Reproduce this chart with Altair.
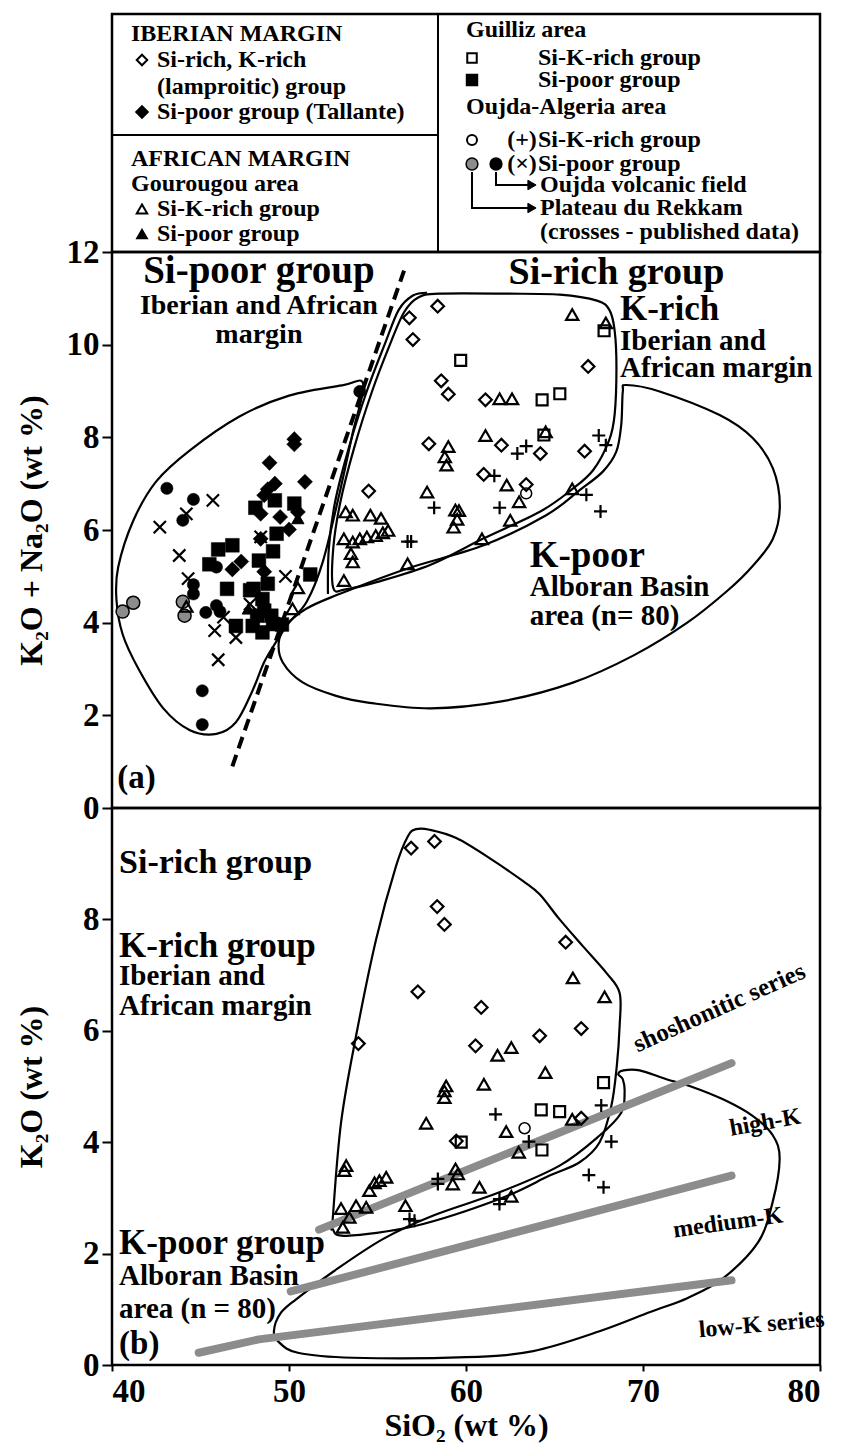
import altair as alt
import pandas as pd

FONT = "Liberation Serif"
GREY = "#8c8c8c"
PLUS = "M-1,0L1,0M0,-1L0,1"
XMARK = "M-1,-1L1,1M-1,1L1,-1"

# ---------------- panel (a): K2O+Na2O vs SiO2 ----------------
a_rekkam_grey = [(40.6, 4.24), (41.2, 4.43), (44.1, 4.15), (44.0, 4.45)]
a_oujda_black = [(43.1, 6.9), (44.6, 6.66), (44.0, 6.21), (45.9, 5.2), (44.6, 4.82),
                 (44.6, 4.62), (45.3, 4.22), (45.9, 4.37), (46.1, 4.24), (45.1, 2.53),
                 (45.1, 1.8), (54.0, 8.99)]
a_si_poor_cross = [(42.7, 6.06), (45.7, 6.64), (44.2, 6.35), (43.8, 5.45), (44.3, 4.95),
                   (45.8, 3.83), (46.3, 4.12), (47.0, 3.68), (46.0, 3.2), (49.8, 5.0),
                   (48.4, 5.85), (47.8, 4.4)]
a_tallante = [(50.3, 7.96), (50.3, 7.85), (48.9, 7.45), (50.9, 7.04), (49.2, 7.0), (48.8, 6.88),
              (48.6, 6.75), (48.4, 6.35), (49.5, 6.28), (50.0, 6.01), (47.3, 5.32), (46.8, 5.15),
              (48.4, 5.81), (48.6, 5.1), (50.5, 6.39)]
a_guilliz_poor = [(48.1, 6.48), (49.2, 6.64), (50.3, 6.57), (49.3, 5.92), (46.0, 5.58), (46.8, 5.67),
                  (45.5, 5.26), (49.1, 5.54), (48.3, 5.34), (51.2, 5.04), (46.5, 4.73), (48.0, 4.73),
                  (48.8, 4.84), (48.5, 4.51), (47.0, 3.93), (47.95, 3.93), (48.5, 3.79), (49.1, 3.97),
                  (49.6, 3.96), (48.6, 4.26), (49.0, 4.15), (48.2, 4.15), (47.8, 4.7)]
a_gourougou_poor = [(47.7, 4.3), (50.5, 6.25)]
a_gourougou_rich = [(44.2, 4.35), (50.2, 4.3), (50.5, 4.75),
                    (66.0, 10.65), (67.9, 10.47), (61.9, 8.83), (62.6, 8.83), (61.1, 8.04),
                    (64.5, 8.12), (59.0, 7.8), (58.8, 7.58), (58.9, 7.4), (57.8, 6.82), (62.3, 6.97),
                    (63.0, 6.61), (59.4, 6.43), (59.6, 6.42), (59.5, 6.23), (59.3, 6.06), (62.5, 6.21),
                    (66.0, 6.89), (60.9, 5.81), (56.7, 5.27), (53.2, 6.39), (53.6, 6.32), (54.6, 6.32),
                    (55.2, 6.25), (55.6, 5.99), (55.3, 5.94), (54.9, 5.88), (54.4, 5.85), (54.0, 5.81),
                    (53.6, 5.74), (53.1, 5.81), (53.5, 5.49), (53.6, 5.31), (53.1, 4.91)]
a_lamproite = [(58.4, 10.83), (56.8, 10.58), (57.0, 10.11), (58.6, 9.22), (59.0, 8.93), (61.1, 8.81),
               (57.9, 7.86), (62.0, 7.83), (64.2, 7.65), (61.0, 7.2), (63.4, 6.98), (54.5, 6.84),
               (66.9, 9.53), (66.7, 7.7)]
a_guilliz_rich = [(59.7, 9.66), (64.3, 8.81), (65.3, 8.94), (64.4, 8.05), (67.8, 10.3)]
a_oujda_rich_open = [(63.4, 6.79)]
a_si_rich_plus = [(56.7, 5.75), (56.9, 5.75), (58.2, 6.48), (61.9, 6.48), (62.9, 7.65), (63.4, 7.81),
                  (61.6, 7.17), (67.5, 8.04), (67.9, 7.83), (66.8, 6.76), (67.6, 6.4)]

a_si_poor_field = [(54.2, 9.15), (53.0, 9.12), (50.0, 8.9), (47.2, 8.45), (44.4, 7.72), (42.5, 7.05),
                   (41.2, 6.2), (40.35, 5.2), (40.25, 4.5), (40.6, 3.75), (41.5, 3.0), (42.9, 2.15),
                   (44.4, 1.68), (45.9, 1.6), (47.0, 1.85), (47.9, 2.5), (48.6, 3.15), (49.3, 3.6),
                   (50.0, 4.0), (51.0, 4.45), (51.9, 5.3), (52.8, 6.7), (53.6, 8.1)]
a_si_rich_field = [(52.5, 4.75), (52.5, 5.6), (52.9, 6.6), (53.7, 7.8), (54.7, 9.0), (55.7, 10.0),
                   (56.5, 10.7), (57.3, 11.02), (58.5, 11.1), (62.3, 11.1), (65.3, 11.08), (67.4, 10.95),
                   (68.1, 10.75), (68.4, 10.3), (68.5, 9.5), (68.4, 8.5), (68.1, 7.95), (67.2, 7.3),
                   (66.0, 6.88), (64.2, 6.4), (61.0, 5.82), (58.0, 5.25), (55.0, 4.88), (53.2, 4.72)]
a_si_rich_outer = [(52.2, 4.62), (52.25, 5.6), (52.6, 6.6), (53.4, 7.8), (54.4, 9.0), (55.4, 10.0),
                   (56.2, 10.75), (57.0, 11.06), (57.8, 11.12)]
a_k_poor_field = [(49.42, 3.57), (49.84, 3.94), (50.97, 4.3), (52.66, 4.59), (56.62, 5.16), (61.0, 5.67),
                  (64.53, 6.32), (66.42, 6.86), (67.73, 7.26), (68.49, 7.69), (68.77, 8.27),
                  (68.86, 8.99), (69.06, 9.13), (70.94, 8.99), (74.33, 8.48), (76.21, 7.98),
                  (77.34, 7.33), (77.73, 6.53), (77.34, 5.81), (76.21, 5.23), (74.8, 4.7),
                  (72.5, 4.0), (69.5, 3.3), (66.0, 2.7), (62.0, 2.3), (58.0, 2.15), (54.55, 2.27),
                  (52.66, 2.42), (50.77, 2.71), (49.65, 3.14)]
a_divide = [(46.8, 0.9), (56.5, 11.6)]

# ---------------- panel (b): K2O vs SiO2 ----------------
b_lamproite = [(56.9, 9.28), (58.22, 9.40), (58.37, 8.23), (58.78, 7.91), (57.28, 6.70), (60.86, 6.42),
               (53.92, 5.77), (60.54, 5.73), (64.16, 5.91), (65.63, 7.59), (66.51, 6.04),
               (66.51, 4.43), (59.45, 4.02)]
b_gourougou_rich = [(61.78, 5.56), (62.56, 5.70), (64.48, 5.25), (66.04, 6.95), (67.83, 6.61),
                    (61.01, 5.04), (58.88, 5.01), (58.78, 4.92), (58.78, 4.80), (57.75, 4.34),
                    (62.27, 4.19), (66.0, 4.41), (62.98, 3.82), (59.41, 3.52), (59.54, 3.43),
                    (59.25, 3.25), (60.76, 3.19), (53.23, 3.58), (53.13, 3.49), (55.49, 3.37),
                    (55.11, 3.31), (54.83, 3.27), (54.54, 3.13), (54.36, 2.83), (53.79, 2.86),
                    (52.94, 2.81), (53.41, 2.65), (53.04, 2.47), (56.58, 2.86), (62.56, 3.03)]
b_guilliz_rich = [(67.77, 5.07), (64.25, 4.58), (65.29, 4.55), (64.29, 3.86), (59.73, 4.0)]
b_oujda_rich_open = [(63.31, 4.25)]
b_si_rich_plus = [(67.64, 4.66), (61.67, 4.50), (63.55, 4.01), (68.21, 4.01), (58.41, 3.34),
                  (58.41, 3.25), (66.94, 3.41), (67.77, 3.19), (61.89, 2.98), (61.89, 2.89),
                  (56.81, 2.62), (57.09, 2.59)]

b_si_rich_field = [(52.94, 4.35), (53.79, 5.91), (54.92, 7.64), (56.05, 8.96), (56.71, 9.49),
                   (57.18, 9.62), (57.94, 9.61), (59.45, 9.46), (61.33, 9.1), (63.21, 8.69),
                   (64.16, 8.45), (65.29, 8.0), (66.6, 7.52), (67.93, 7.04), (68.68, 6.68),
                   (68.68, 6.09), (68.52, 5.37), (68.21, 4.65), (67.55, 4.0), (66.42, 3.64),
                   (64.72, 3.40), (61.89, 2.98), (57.18, 2.5), (53.23, 2.32), (52.47, 2.44),
                   (52.47, 2.62)]
b_k_poor_field = [(50.4, 1.18), (52.47, 1.67), (55.3, 2.26), (58.12, 2.68), (61.89, 3.10), (65.29, 3.58),
                  (67.55, 4.12), (68.77, 4.53), (68.96, 4.89), (68.86, 5.13), (68.6, 5.22),
                  (68.9, 5.29), (69.81, 5.29), (71.32, 5.13), (72.63, 5.01), (74.52, 4.77),
                  (76.21, 4.47), (77.34, 4.12), (77.72, 3.70), (77.32, 2.92), (76.5, 2.2),
                  (74.5, 1.55), (72.5, 1.2), (70.4, 0.95), (67.5, 0.6), (63.8, 0.25), (60.0, 0.14),
                  (53.6, 0.13), (50.5, 0.22), (49.4, 0.42), (49.15, 0.61), (49.5, 0.92)]
b_shoshonitic = [(51.7, 2.43), (75.0, 5.42)]
b_high_k = [(50.1, 1.32), (75.0, 3.40)]
b_low_k = [(44.9, 0.22), (48.3, 0.46), (75.0, 1.52)]

x_ticks = [40, 50, 60, 70, 80]
a_y_ticks = [0, 2, 4, 6, 8, 10, 12]
b_y_ticks = [0, 2, 4, 6, 8]

# ---------------- layout ----------------
W = 708
H_LEG = 238
H_A = 556
H_B = 557
xs = alt.Scale(domain=[40, 80], nice=False, zero=False)
ys_a = alt.Scale(domain=[0, 12], nice=False, zero=False)
ys_b = alt.Scale(domain=[0, 10], nice=False, zero=False)

AX = dict(labelFont=FONT, labelFontWeight="bold", labelFontSize=33, labelColor="black",
          titleFont=FONT, titleFontWeight="bold", titleFontSize=32, titleColor="black",
          tickColor="black", tickWidth=2, domain=False, grid=False)

y_axis_a = alt.Axis(values=a_y_ticks, title="K₂O + Na₂O (wt %)", tickSize=10, labelPadding=3,
                    titlePadding=14, minExtent=50, maxExtent=50, **AX)
y_axis_b = alt.Axis(values=b_y_ticks, title="K₂O (wt %)", tickSize=10, labelPadding=3,
                    titlePadding=14, minExtent=50, maxExtent=50, **AX)
x_axis_b = alt.Axis(values=x_ticks, title="SiO₂ (wt %)", tickSize=6, labelPadding=4,
                    titlePadding=2, **AX)


def frame(points, key="i"):
    return pd.DataFrame([{"x": p[0], "y": p[1], key: k} for k, p in enumerate(points)])


def enc(chart, ys, yaxis, xaxis):
    return chart.encode(x=alt.X("x:Q", scale=xs, axis=xaxis), y=alt.Y("y:Q", scale=ys, axis=yaxis))


def points(data, ys, yaxis, xaxis, shape, size, filled, fill="black", sw=2.0):
    if filled:
        m = alt.Chart(frame(data)).mark_point(shape=shape, size=size, filled=True, fill=fill,
                                               stroke="black", strokeWidth=sw, opacity=1)
    else:
        m = alt.Chart(frame(data)).mark_point(shape=shape, size=size, filled=False, color="black",
                                               strokeWidth=sw, opacity=1)
    return enc(m, ys, yaxis, xaxis)


def outline(data, ys, yaxis, xaxis, closed=True, width=2.2):
    m = alt.Chart(frame(data)).mark_line(color="black", strokeWidth=width,
                                         interpolate="cardinal-closed" if closed else "cardinal")
    return enc(m, ys, yaxis, xaxis).encode(order="i:Q")


def label(text, x, y, ys, yaxis, xaxis, size, align="left", angle=0):
    df = pd.DataFrame([{"x": x, "y": y, "t": text}])
    m = alt.Chart(df).mark_text(font=FONT, fontWeight="bold", fontSize=size, align=align,
                                baseline="middle", angle=angle, color="black")
    return enc(m, ys, yaxis, xaxis).encode(text="t:N")


# ---- panel a ----
ya, xa = y_axis_a, None
a_layers = [
    outline(a_si_poor_field, ys_a, ya, xa),
    outline(a_si_rich_field, ys_a, ya, xa),
    outline(a_si_rich_outer, ys_a, ya, xa, closed=False),
    outline(a_k_poor_field, ys_a, ya, xa),
    enc(alt.Chart(frame(a_divide)).mark_line(color="black", strokeWidth=4, strokeDash=[12, 7]),
        ys_a, ya, xa).encode(order="i:Q"),
    points(a_rekkam_grey, ys_a, ya, xa, "circle", 170, True, fill=GREY, sw=1.5),
    points(a_oujda_black, ys_a, ya, xa, "circle", 150, True, sw=0.5),
    points(a_si_poor_cross, ys_a, ya, xa, XMARK, 150, False, sw=2.2),
    points(a_guilliz_poor, ys_a, ya, xa, "square", 190, True, sw=0.5),
    points(a_tallante, ys_a, ya, xa, "diamond", 230, True, sw=0.5),
    points(a_gourougou_poor, ys_a, ya, xa, "triangle-up", 150, True, sw=1),
    points(a_gourougou_rich, ys_a, ya, xa, "triangle-up", 150, False, sw=2.2),
    points(a_lamproite, ys_a, ya, xa, "diamond", 160, False, sw=2.2),
    points(a_guilliz_rich, ys_a, ya, xa, "square", 120, False, sw=2.2),
    points(a_oujda_rich_open, ys_a, ya, xa, "circle", 120, False, sw=1.5),
    points(a_si_rich_plus, ys_a, ya, xa, PLUS, 170, False, sw=2.2),
    label("Si-poor group", 48.3, 11.59, ys_a, ya, xa, 39, "center"),
    label("Iberian and African", 48.3, 10.83, ys_a, ya, xa, 28, "center"),
    label("margin", 48.3, 10.2, ys_a, ya, xa, 28, "center"),
    label("Si-rich group", 68.5, 11.54, ys_a, ya, xa, 38, "center"),
    label("K-rich", 68.7, 10.76, ys_a, ya, xa, 35),
    label("Iberian and", 68.7, 10.07, ys_a, ya, xa, 29),
    label("African margin", 68.7, 9.49, ys_a, ya, xa, 29),
    label("K-poor", 63.6, 5.43, ys_a, ya, xa, 37),
    label("Alboran Basin", 63.6, 4.77, ys_a, ya, xa, 29),
    label("area (n= 80)", 63.6, 4.15, ys_a, ya, xa, 29),
    label("(a)", 40.3, 0.65, ys_a, ya, xa, 33),
]
panel_a = alt.layer(*a_layers).properties(width=W, height=H_A)

# ---- panel b ----
yb, xb = y_axis_b, x_axis_b


def series(data):
    m = alt.Chart(frame(data)).mark_line(color=GREY, strokeWidth=8, strokeCap="round")
    return enc(m, ys_b, yb, xb).encode(order="i:Q")


b_layers = [
    outline(b_si_rich_field, ys_b, yb, xb),
    outline(b_k_poor_field, ys_b, yb, xb),
    series(b_shoshonitic), series(b_high_k), series(b_low_k),
    points(b_lamproite, ys_b, yb, xb, "diamond", 160, False, sw=2.2),
    points(b_gourougou_rich, ys_b, yb, xb, "triangle-up", 150, False, sw=2.2),
    points(b_guilliz_rich, ys_b, yb, xb, "square", 120, False, sw=2.2),
    points(b_oujda_rich_open, ys_b, yb, xb, "circle", 120, False, sw=1.5),
    points(b_si_rich_plus, ys_b, yb, xb, PLUS, 170, False, sw=2.2),
    label("Si-rich group", 40.4, 9.02, ys_b, yb, xb, 34),
    label("K-rich group", 40.4, 7.53, ys_b, yb, xb, 35),
    label("Iberian and", 40.4, 6.99, ys_b, yb, xb, 29),
    label("African margin", 40.4, 6.45, ys_b, yb, xb, 29),
    label("K-poor group", 40.4, 2.19, ys_b, yb, xb, 35),
    label("Alboran Basin", 40.4, 1.59, ys_b, yb, xb, 29),
    label("area (n = 80)", 40.4, 1.0, ys_b, yb, xb, 29),
    label("(b)", 40.4, 0.37, ys_b, yb, xb, 33),
    label("shoshonitic series", 74.3, 6.42, ys_b, yb, xb, 25, "center", 336),
    label("high-K", 76.9, 4.35, ys_b, yb, xb, 24, "center", 350),
    label("medium-K", 74.8, 2.55, ys_b, yb, xb, 24, "center", 352),
    label("low-K series", 76.7, 0.72, ys_b, yb, xb, 24, "center", 355),
]
panel_b = alt.layer(*b_layers).properties(width=W, height=H_B)

# ---- legend box (local pixel layout) ----
LEG_FONT = 24
left_rows = [
    ("IBERIAN MARGIN", None, 20),
    ("Si-rich, K-rich", "open_diamond", 46),
    ("(lamproitic) group", None, 73),
    ("Si-poor group (Tallante)", "filled_diamond", 98),
    ("AFRICAN MARGIN", None, 145),
    ("Gourougou area", None, 170),
    ("Si-K-rich group", "open_triangle", 195),
    ("Si-poor group", "filled_triangle", 220),
]
right_rows = [
    ("Guilliz area", None, 16),
    ("Si-K-rich group", "open_square", 44),
    ("Si-poor group", "filled_square", 66),
    ("Oujda-Algeria area", None, 93),
    ("Si-K-rich group", "open_circle", 126),
    ("Si-poor group", "grey_black", 150),
    ("Oujda volcanic field", "arrow_black", 171),
    ("Plateau du Rekkam", "arrow_grey", 194),
    ("(crosses - published data)", None, 218),
]
L_HEAD, L_SYM, L_TXT = 19, 30, 45
R_HEAD, R_SYM1, R_SYM2, R_PAR, R_TXT = 354, 360, 384, 410, 426
DIV_X, DIV_Y = 326, 121

lx = alt.Scale(domain=[0, W], nice=False, zero=False)
ly = alt.Scale(domain=[0, H_LEG], nice=False, zero=False, reverse=True)


def lenc(chart):
    return chart.encode(x=alt.X("x:Q", scale=lx, axis=None), y=alt.Y("y:Q", scale=ly, axis=None))


texts = []
syms = {k: [] for k in ["open_diamond", "filled_diamond", "open_triangle", "filled_triangle",
                        "open_square", "filled_square", "open_circle", "grey", "black"]}
for t, s, y in left_rows:
    head = s is None and (t.isupper() or t == "Gourougou area")
    texts.append({"x": L_HEAD if head else L_TXT, "y": y, "t": t})
    if s:
        syms[s].append({"x": L_SYM, "y": y})
arrow_paths = []
for t, s, y in right_rows:
    head = s is None and not t.startswith("(crosses")
    shift = 2 if (s and s.startswith("arrow")) or t.startswith("(crosses") else 0
    texts.append({"x": R_HEAD if head else R_TXT + shift, "y": y, "t": t})
    if s in ("open_square", "filled_square", "open_circle"):
        syms[s].append({"x": R_SYM1, "y": y})
    if s == "grey_black":
        syms["grey"].append({"x": R_SYM1, "y": y})
        syms["black"].append({"x": R_SYM2, "y": y})
    if s == "arrow_black":
        arrow_paths.append((R_SYM2, y))
    if s == "arrow_grey":
        arrow_paths.append((R_SYM1, y))
par_texts = [{"x": R_PAR, "y": 126, "t": "(+)"}, {"x": R_PAR, "y": 150, "t": "(×)"}]

leg_layers = [
    lenc(alt.Chart(pd.DataFrame(texts)).mark_text(font=FONT, fontWeight="bold", fontSize=LEG_FONT,
                                                  align="left", baseline="middle", color="black")
         ).encode(text="t:N"),
    lenc(alt.Chart(pd.DataFrame(par_texts)).mark_text(font=FONT, fontWeight="bold", fontSize=LEG_FONT,
                                                      align="center", baseline="middle", color="black")
         ).encode(text="t:N"),
    lenc(alt.Chart(pd.DataFrame([{"x": DIV_X, "y": 0, "i": 0}, {"x": DIV_X, "y": H_LEG, "i": 1}]))
         .mark_line(color="black", strokeWidth=2)).encode(order="i:Q"),
    lenc(alt.Chart(pd.DataFrame([{"x": 0, "y": DIV_Y, "i": 0}, {"x": DIV_X, "y": DIV_Y, "i": 1}]))
         .mark_line(color="black", strokeWidth=2)).encode(order="i:Q"),
]
style = {
    "open_diamond": ("diamond", 110, False, "black"), "filled_diamond": ("diamond", 150, True, "black"),
    "open_triangle": ("triangle-up", 110, False, "black"), "filled_triangle": ("triangle-up", 110, True, "black"),
    "open_square": ("square", 90, False, "black"), "filled_square": ("square", 120, True, "black"),
    "open_circle": ("circle", 100, False, "black"), "grey": ("circle", 140, True, GREY),
    "black": ("circle", 140, True, "black"),
}
for k, rows in syms.items():
    if not rows:
        continue
    shape, size, filled, fill = style[k]
    if filled:
        m = alt.Chart(pd.DataFrame(rows)).mark_point(shape=shape, size=size, filled=True, fill=fill,
                                                     stroke="black", strokeWidth=1.5, opacity=1)
    else:
        m = alt.Chart(pd.DataFrame(rows)).mark_point(shape=shape, size=size, filled=False,
                                                     color="black", strokeWidth=2, opacity=1)
    leg_layers.append(lenc(m))
for sx, ty in arrow_paths:
    sy = 150 + 8
    df = pd.DataFrame([{"x": sx, "y": sy, "i": 0}, {"x": sx, "y": ty, "i": 1},
                       {"x": R_TXT - 8, "y": ty, "i": 2}])
    leg_layers.append(lenc(alt.Chart(df).mark_line(color="black", strokeWidth=2)).encode(order="i:Q"))
    leg_layers.append(lenc(alt.Chart(pd.DataFrame([{"x": R_TXT - 6, "y": ty}]))
                           .mark_point(shape="triangle-right", size=90, filled=True, fill="black",
                                       stroke="black", strokeWidth=1, opacity=1)))
legend_box = alt.layer(*leg_layers).properties(width=W, height=H_LEG)

chart = alt.vconcat(legend_box, panel_a, panel_b, spacing=0, bounds="flush").properties(
    padding={"left": 5, "top": 0, "right": 0, "bottom": 0}
).configure_view(stroke="black", strokeWidth=2.5).configure_concat(spacing=0)

chart.save("out.html", embed_options={"renderer": "svg", "actions": False})
